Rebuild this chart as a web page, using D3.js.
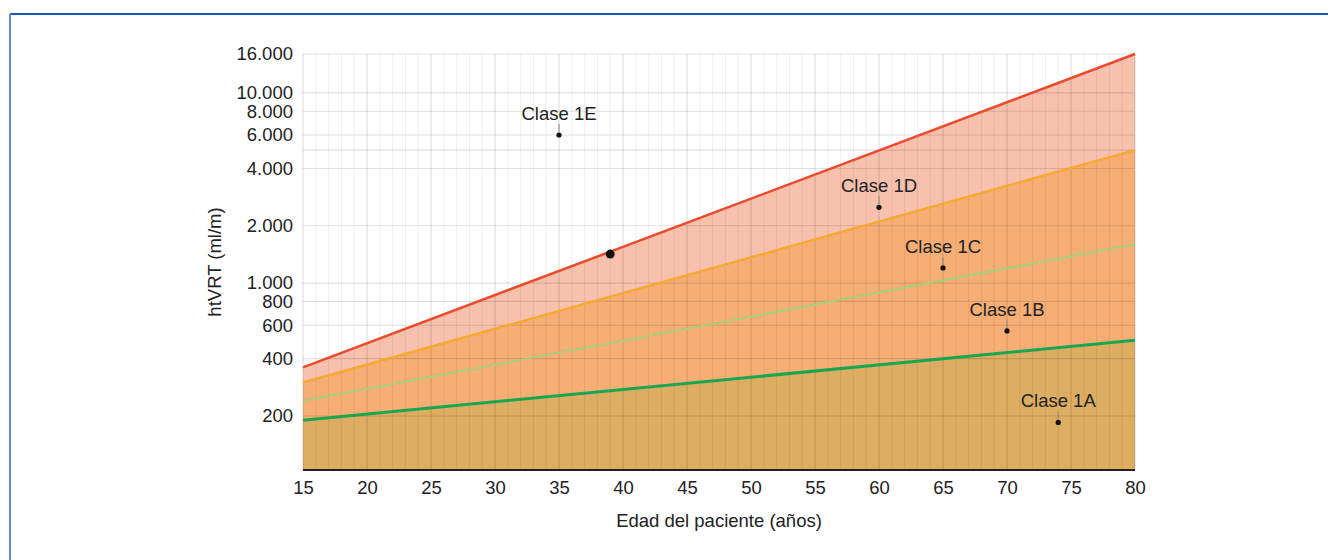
<!DOCTYPE html>
<html>
<head>
<meta charset="utf-8">
<script src="https://cdn.jsdelivr.net/npm/d3@7"></script>
<style>
  html, body { margin: 0; padding: 0; background: #fff; }
  svg { display: block; font-family: "Liberation Sans", Arial, sans-serif; }
</style>
</head>
<body>
<div id="canvas"></div>
<script>
"use strict";

let svgWidth = 1328;
let svgHeight = 560;
let margin = { top: 54, right: 192, bottom: 90, left: 303 };

/* === Data === */
// boundary lines: value at age 15 and at age 80
let ages = [15, 80];
let redLine = [360, 16000];
let orangeLine = [300, 5000];
let lightGreenLine = [240, 1600];
let greenLine = [190, 500];

let pointLabels = ["Clase 1E", "Clase 1D", "Clase 1C", "Clase 1B", "Clase 1A"];
let pointAges = [35, 60, 65, 70, 74];
let pointValues = [6000, 2500, 1200, 560, 185];

let markAge = 39;
let markValue = 1420;

let xTicks = [15, 20, 25, 30, 35, 40, 45, 50, 55, 60, 65, 70, 75, 80];
let yTicks = [200, 400, 600, 800, 1000, 2000, 4000, 6000, 8000, 10000, 16000];
let yGrid = [200, 400, 600, 800, 1000, 2000, 4000, 5000, 6000, 8000, 10000, 16000];

let fontSize = "18.5px";

/* === Scales === */
let xScale = d3.scaleLinear()
  .domain([15, 80])
  .range([margin.left, svgWidth - margin.right - 1]);

let yScale = d3.scaleLog()
  .domain([104, 16000])
  .range([svgHeight - margin.bottom, margin.top]);

let fmt = d3.formatLocale({ decimal: ",", thousands: ".", grouping: [3], currency: ["", ""] }).format(",d");

/* === SVG === */
let svg = d3.select("#canvas")
  .append("svg")
  .attr("width", svgWidth)
  .attr("height", svgHeight);

// page frame
svg.append("line")
  .attr("x1", 10).attr("x2", svgWidth).attr("y1", 14).attr("y2", 14)
  .attr("stroke", "#1d58a6").attr("stroke-width", 2);
svg.append("line")
  .attr("x1", 10).attr("x2", 10).attr("y1", 14).attr("y2", svgHeight)
  .attr("stroke", "#5f8fc6").attr("stroke-width", 2);

let y0 = yScale.range()[0];

/* === Filled bands === */
function band(vals) {
  return d3.area()
    .x((d, i) => xScale(ages[i]))
    .y0(y0)
    .y1((d) => yScale(d))(vals);
}

svg.append("path").attr("d", band(redLine)).attr("fill", "#f8c1ad");
svg.append("path").attr("d", band(orangeLine)).attr("fill", "#f7ae75");
svg.append("path").attr("d", band(greenLine)).attr("fill", "#ddad62");

/* === Grid === */
let grid = svg.append("g");
d3.range(15, 81).forEach(a => {
  grid.append("line")
    .attr("x1", xScale(a)).attr("x2", xScale(a))
    .attr("y1", yScale(16000)).attr("y2", y0)
    .attr("stroke", "#000")
    .attr("stroke-opacity", a % 5 === 0 ? 0.13 : 0.055)
    .attr("stroke-width", 1.2);
});
yGrid.forEach(v => {
  grid.append("line")
    .attr("x1", xScale(15)).attr("x2", xScale(80))
    .attr("y1", yScale(v)).attr("y2", yScale(v))
    .attr("stroke", "#000")
    .attr("stroke-opacity", 0.12)
    .attr("stroke-width", 1.2);
});

/* === Lines === */
function line(vals, color, w) {
  svg.append("path")
    .attr("d", d3.line().x((d, i) => xScale(ages[i])).y(d => yScale(d))(vals))
    .attr("fill", "none")
    .attr("stroke", color)
    .attr("stroke-width", w);
}
line(greenLine, "#1aa650", 3);
line(lightGreenLine, "#9fd27b", 1.8);
line(orangeLine, "#f6a932", 2.5);
line(redLine, "#ea4a2d", 2.5);

/* === Axes === */
svg.append("line")
  .attr("x1", xScale(15)).attr("x2", xScale(80))
  .attr("y1", y0).attr("y2", y0)
  .attr("stroke", "#222").attr("stroke-width", 2);

let xAxis = svg.append("g")
  .attr("transform", `translate(0, ${y0})`)
  .call(d3.axisBottom(xScale).tickValues(xTicks).tickSize(0).tickPadding(11).tickFormat(d3.format("d")));
xAxis.select(".domain").remove();
xAxis.selectAll("text").attr("font-size", fontSize).attr("fill", "#222").attr("font-family", "Liberation Sans, Arial, sans-serif");

let yAxis = svg.append("g")
  .attr("transform", `translate(${margin.left}, 0)`)
  .call(d3.axisLeft(yScale).tickValues(yTicks).tickSize(0).tickPadding(10).tickFormat(fmt));
yAxis.select(".domain").remove();
yAxis.selectAll("text").attr("font-size", fontSize).attr("fill", "#222").attr("font-family", "Liberation Sans, Arial, sans-serif");

/* === Points === */
pointLabels.forEach((lab, i) => {
  let cx = xScale(pointAges[i]);
  let cy = yScale(pointValues[i]);
  svg.append("line")
    .attr("x1", cx).attr("x2", cx).attr("y1", cy - 11).attr("y2", cy - 3)
    .attr("stroke", "#888").attr("stroke-width", 1);
  svg.append("circle")
    .attr("cx", cx).attr("cy", cy).attr("r", 2.6)
    .attr("fill", "#111");
  svg.append("text")
    .attr("x", cx).attr("y", cy - 15)
    .attr("text-anchor", "middle")
    .attr("font-size", fontSize)
    .attr("fill", "#222")
    .text(lab);
});

svg.append("circle")
  .attr("cx", xScale(markAge)).attr("cy", yScale(markValue)).attr("r", 4.5)
  .attr("fill", "#111");

/* === Labels === */
svg.append("text")
  .attr("x", (xScale(15) + xScale(80)) / 2)
  .attr("y", 527)
  .attr("text-anchor", "middle")
  .attr("font-size", fontSize)
  .attr("fill", "#222")
  .text("Edad del paciente (años)");

svg.append("text")
  .attr("transform", `translate(221, ${(yScale(16000) + y0) / 2}) rotate(-90)`)
  .attr("text-anchor", "middle")
  .attr("font-size", fontSize)
  .attr("fill", "#222")
  .text("htVRT (ml/m)");
</script>
</body>
</html>
